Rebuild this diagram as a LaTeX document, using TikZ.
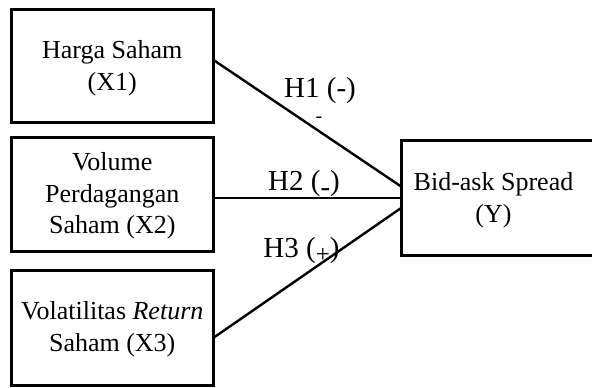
\documentclass[tikz,border=0pt]{standalone}
\usepackage{fontspec}
\setmainfont{Liberation Serif}
\begin{document}
\begin{tikzpicture}[x=1pt,y=-1pt,
  box/.style={draw,line width=3pt,inner sep=0pt,outer sep=0pt,align=center,
    font=\fontsize{26}{31.5}\selectfont},
  txt/.style={inner sep=0pt,align=center,font=\fontsize{26}{31.5}\selectfont},
  conn/.style={line width=2.4pt},
  hlab/.style={anchor=base,inner sep=0pt,font=\fontsize{29}{34}\selectfont}]
\useasboundingbox (0,0) rectangle (592,388);
\node[box,minimum width=202.5pt,minimum height=113pt] (b1) at (112.25,65.5) {};
\node[txt] (t1) at (112.25,68) {Harga Saham\\(X1)};
\node[box,minimum width=202.5pt,minimum height=114.5pt] (b2) at (112.25,194.25) {};
\node[txt] (t2) at (112.25,196) {Volume\\Perdagangan\\Saham (X2)};
\node[box,minimum width=202.5pt,minimum height=114.5pt] (b3) at (112.25,327.75) {};
\node[txt] (t3) at (112.25,329) {Volatilitas \textit{Return}\\Saham (X3)};
\node[box,minimum width=195pt,minimum height=114.5pt] (y) at (499,197.75) {};
\node[txt] (yt) at (493.5,200) {Bid-ask Spread\\(Y)};
\node[hlab] (l1) at (320,97) {H1 (-)};
\node[hlab] (l2) at (304,190) {H2 (\raisebox{-0.22em}{-})};
\node[hlab] (l3) at (301.5,257) {H3 (\raisebox{-0.18em}{\fontsize{25}{25}\selectfont +})};
\node[inner sep=0pt,font=\fontsize{20}{20}\selectfont] (m1) at (319,120) {-};
\draw[conn] ([yshift=5.5pt]b1.east) -- ([yshift=11pt]y.west);
\draw[conn] ([yshift=-3.5pt]b2.east) -- ([yshift=-3.5pt]b2.east -| y.west);
\draw[conn] ([yshift=-10pt]b3.east) -- ([yshift=-10pt]y.west);
\end{tikzpicture}
\end{document}
